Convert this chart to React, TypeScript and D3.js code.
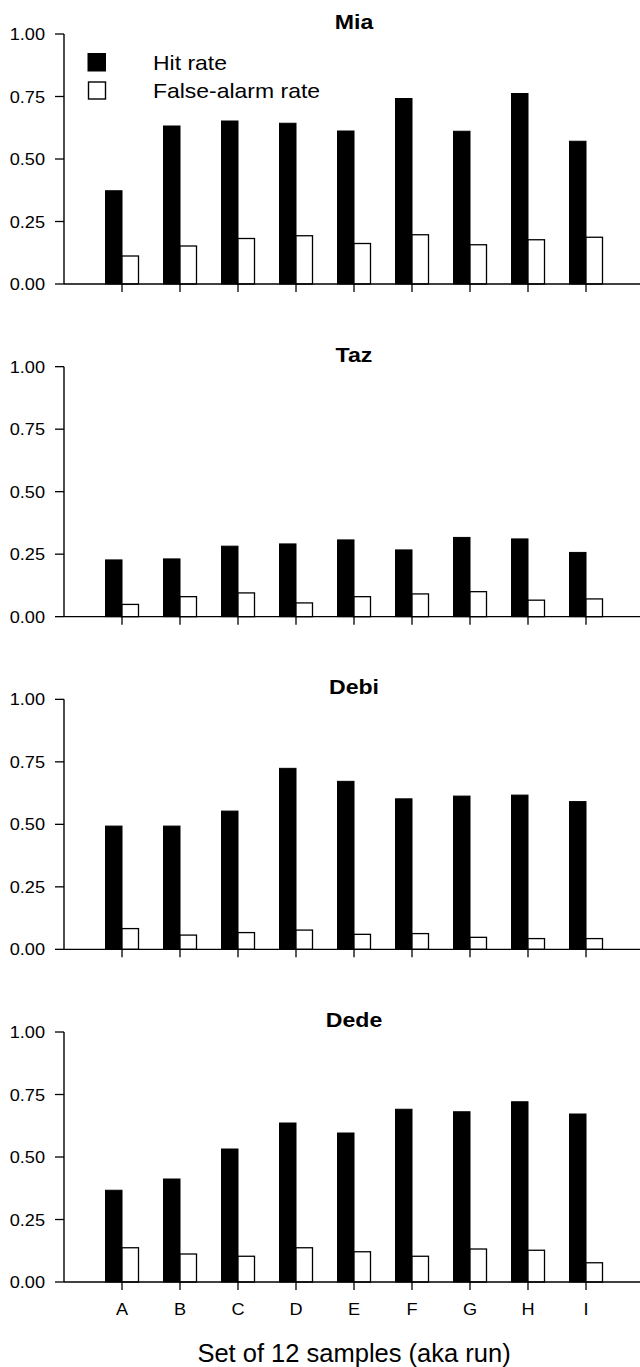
import React from "react";
import * as d3 from "d3";

const categories = ["A", "B", "C", "D", "E", "F", "G", "H", "I"];
const subjects = ["Mia", "Taz", "Debi", "Dede"];
const yTicks = [0, 0.25, 0.5, 0.75, 1.0];

const miaHit = [0.373, 0.632, 0.652, 0.643, 0.612, 0.742, 0.611, 0.762, 0.571];
const miaFA = [0.112, 0.152, 0.182, 0.193, 0.162, 0.197, 0.157, 0.177, 0.187];
const tazHit = [0.227, 0.231, 0.282, 0.291, 0.307, 0.267, 0.317, 0.311, 0.257];
const tazFA = [0.049, 0.080, 0.095, 0.055, 0.080, 0.091, 0.100, 0.066, 0.071];
const debiHit = [0.493, 0.493, 0.553, 0.724, 0.672, 0.602, 0.613, 0.617, 0.591];
const debiFA = [0.083, 0.057, 0.067, 0.077, 0.060, 0.063, 0.048, 0.043, 0.043];
const dedeHit = [0.367, 0.412, 0.532, 0.636, 0.596, 0.691, 0.681, 0.721, 0.672];
const dedeFA = [0.137, 0.112, 0.103, 0.137, 0.121, 0.103, 0.132, 0.127, 0.077];

const hitSeries = [miaHit, tazHit, debiHit, dedeHit];
const faSeries = [miaFA, tazFA, debiFA, dedeFA];

const legendLabels = ["Hit rate", "False-alarm rate"];
const xTitle = "Set of 12 samples (aka run)";

const W = 640;
const H = 1367;
const axisX = 64;
const firstTop = 34;
const panelStep = 332.67;
const panelH = 250;
const barW = 16.5;
const FONT = "'Liberation Sans', Arial, Helvetica, sans-serif";

function SText({ x, y, anchor = "start", size, weight = "normal", sx = 1.1, children }: any) {
  return (
    <text
      transform={`translate(${x},${y}) scale(${sx},1)`}
      textAnchor={anchor}
      fontSize={size}
      fontWeight={weight}
      fontFamily={FONT}
      fill="#000"
    >
      {children}
    </text>
  );
}

export default function App() {
  const x = d3.scalePoint<string>().domain(categories).range([axisX, 644]).padding(1);
  const center = ((x("A") as number) + (x("I") as number)) / 2;

  return (
    <svg
      width={W}
      height={H}
      viewBox={`0 0 ${W} ${H}`}
      style={{ position: "absolute", left: 0, top: 0, background: "#fff" }}
    >
      <rect x={0} y={0} width={W} height={H} fill="#fff" />
      {subjects.map((name, pi) => {
        const top = firstTop + pi * panelStep;
        const y = d3.scaleLinear().domain([0, 1]).range([top + panelH, top]);
        const hit = hitSeries[pi];
        const fa = faSeries[pi];
        const base = y(0);
        return (
          <g key={name}>
            <SText x={center} y={top - 5} anchor="middle" size={21} weight="bold">
              {name}
            </SText>
            {categories.map((c, i) => {
              const cx = x(c) as number;
              return (
                <g key={c}>
                  <rect
                    x={cx - barW}
                    y={y(hit[i])}
                    width={barW}
                    height={base - y(hit[i])}
                    fill="#000"
                    stroke="#000"
                    strokeWidth={1}
                  />
                  <rect
                    x={cx}
                    y={y(fa[i])}
                    width={barW}
                    height={base - y(fa[i])}
                    fill="#fff"
                    stroke="#000"
                    strokeWidth={1.3}
                  />
                  <line x1={cx} x2={cx} y1={base} y2={base + 8} stroke="#000" strokeWidth={1.3} />
                </g>
              );
            })}
            <line x1={axisX} x2={W} y1={base} y2={base} stroke="#000" strokeWidth={1.4} />
            <line x1={axisX} x2={axisX} y1={top} y2={base} stroke="#000" strokeWidth={1.4} />
            {yTicks.map((t) => (
              <g key={t}>
                <line x1={axisX - 9} x2={axisX} y1={y(t)} y2={y(t)} stroke="#000" strokeWidth={1.3} />
                <SText x={45} y={y(t) + 6} anchor="end" size={16.5}>
                  {d3.format(".2f")(t)}
                </SText>
              </g>
            ))}
            {pi === 0 && (
              <g>
                <rect x={88} y={53.5} width={17.5} height={17.5} fill="#000" stroke="#000" strokeWidth={1} />
                <rect x={88.5} y={82} width={17} height={17} fill="#fff" stroke="#000" strokeWidth={1.4} />
                <SText x={153} y={69.5} size={20.5} sx={1.12}>
                  {legendLabels[0]}
                </SText>
                <SText x={153} y={97.5} size={20.5} sx={1.12}>
                  {legendLabels[1]}
                </SText>
              </g>
            )}
            {pi === subjects.length - 1 &&
              categories.map((c) => (
                <SText key={c} x={x(c) as number} y={base + 33} anchor="middle" size={16.5}>
                  {c}
                </SText>
              ))}
          </g>
        );
      })}
      <SText x={center} y={1361.5} anchor="middle" size={25.5} sx={1}>
        {xTitle}
      </SText>
    </svg>
  );
}
